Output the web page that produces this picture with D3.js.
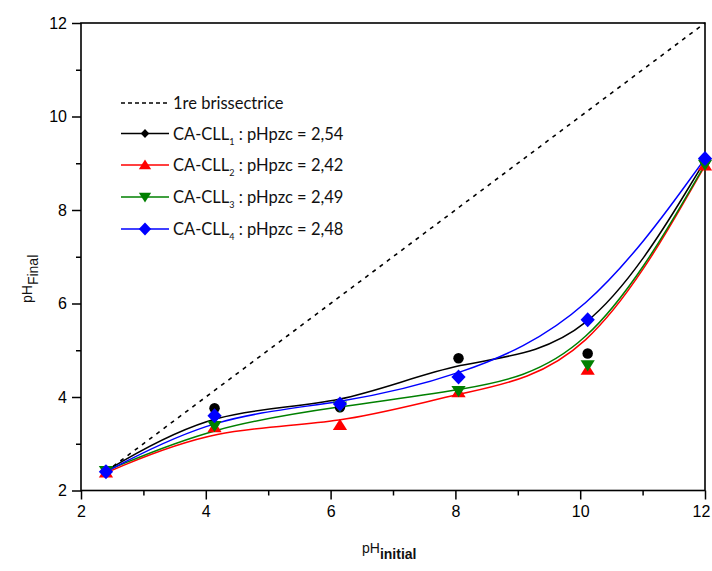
<!DOCTYPE html>
<html><head><meta charset="utf-8">
<script src="https://cdn.jsdelivr.net/npm/d3@7"></script>
<style>body{margin:0;background:#fff}svg{display:block}</style>
</head><body><svg id="c" width="712" height="571"></svg>
<script>
const phInitial = [2.4, 4.14, 6.15, 8.05, 10.12, 12.0];
const cll1 = [2.42, 3.76, 3.78, 4.83, 4.93, 9.05];
const cll2 = [2.38, 3.35, 3.40, 4.10, 4.58, 8.95];
const cll3 = [2.42, 3.38, 3.80, 4.13, 4.68, 8.97];
const cll4 = [2.40, 3.60, 3.85, 4.43, 5.65, 9.10];
const seriesNames = ["CA-CLL", "CA-CLL", "CA-CLL", "CA-CLL"];
const seriesSubs = ["1", "2", "3", "4"];
const pHpzc = ["2,54", "2,42", "2,49", "2,48"];
const bisector = [2.4, 12];
const xTicks = [2, 4, 6, 8, 10, 12];
const yTicks = [2, 4, 6, 8, 10, 12];

const colors = ["#000000", "#ff0000", "#008000", "#0000ff"];
const shapes = ["circle", "up", "down", "diamond"];
const legendShapes = ["diamond", "up", "down", "diamond"];
const data = [cll1, cll2, cll3, cll4];

const svg = d3.select("#c");
const L = 81, R = 705, T = 23, B = 490.5;
const x = d3.scaleLinear().domain([2, 12]).range([L, R]);
const y = d3.scaleLinear().domain([2, 12]).range([B, T]);

// axes
const minorX = d3.range(3, 12, 2), minorY = d3.range(3, 12, 2);
const gx = svg.append("g").attr("transform", `translate(0,${B})`)
  .call(d3.axisBottom(x).tickValues(xTicks).tickSize(9).tickPadding(6).tickFormat(d3.format("d")));
const gxm = svg.append("g").attr("transform", `translate(0,${B})`)
  .call(d3.axisBottom(x).tickValues(minorX).tickSize(5).tickFormat(""));
const gy = svg.append("g").attr("transform", `translate(${L},0)`)
  .call(d3.axisLeft(y).tickValues(yTicks).tickSize(9).tickPadding(5).tickFormat(d3.format("d")));
const gym = svg.append("g").attr("transform", `translate(${L},0)`)
  .call(d3.axisLeft(y).tickValues(minorY).tickSize(5).tickFormat(""));
[gx, gxm, gy, gym].forEach(g => {
  g.select(".domain").remove();
  g.selectAll("line").attr("stroke", "#000").attr("stroke-width", 1.5);
  g.selectAll("text").attr("font-family", "Liberation Sans, Arial, sans-serif")
    .attr("font-size", 16).attr("fill", "#000");
});
gx.selectAll(".tick text").filter(d => d === 12).attr("dx", -4);
// frame
svg.append("rect").attr("x", L).attr("y", T).attr("width", R - L).attr("height", B - T)
  .attr("fill", "none").attr("stroke", "#000").attr("stroke-width", 1.6);

// bisector
svg.append("line").attr("x1", x(bisector[0])).attr("y1", y(bisector[0]))
  .attr("x2", x(bisector[1])).attr("y2", y(bisector[1]))
  .attr("stroke", "#000").attr("stroke-width", 1.6).attr("stroke-dasharray", "4,5");

const line = d3.line().x((d, i) => x(phInitial[i])).y(d => y(d)).curve(d3.curveBasis);

function marker(g, shape, cx, cy, s, color) {
  if (shape === "circle") {
    g.append("circle").attr("cx", cx).attr("cy", cy).attr("r", s * 0.7).attr("fill", color);
    return;
  }
  let p;
  if (shape === "diamond") p = [[0, -s], [s * 0.95, 0], [0, s], [-s * 0.95, 0]];
  else if (shape === "up") p = [[0, -s * 0.85], [s * 0.95, s * 0.65], [-s * 0.95, s * 0.65]];
  else p = [[0, s * 0.85], [s * 0.95, -s * 0.65], [-s * 0.95, -s * 0.65]];
  g.append("path").attr("d", "M" + p.map(q => [cx + q[0], cy + q[1]].join(",")).join("L") + "Z")
    .attr("fill", color);
}

data.forEach((vals, k) => {
  svg.append("path").datum(vals).attr("d", line).attr("fill", "none")
    .attr("stroke", colors[k]).attr("stroke-width", 1.5);
});
data.forEach((vals, k) => {
  const g = svg.append("g");
  vals.forEach((v, i) => marker(g, shapes[k], x(phInitial[i]), y(v), 7.5, colors[k]));
});

// legend
const lg = svg.append("g").attr("font-family", "Lato, 'Open Sans', sans-serif").attr("font-size", 16.5).attr("fill", "#111");
const lx1 = 121, lx2 = 169, tx = 173;
const rows = [103, 133.5, 165, 197, 229];
lg.append("line").attr("x1", lx1).attr("x2", lx2).attr("y1", rows[0]).attr("y2", rows[0])
  .attr("stroke", "#000").attr("stroke-width", 1.6).attr("stroke-dasharray", "4,3");
lg.append("text").attr("x", tx).attr("y", rows[0] + 6).text("1re brissectrice");
data.forEach((vals, k) => {
  const yy = rows[k + 1];
  lg.append("line").attr("x1", lx1).attr("x2", lx2).attr("y1", yy).attr("y2", yy)
    .attr("stroke", colors[k]).attr("stroke-width", 1.5);
  marker(lg, legendShapes[k], (lx1 + lx2) / 2, yy, k === 0 ? 4.5 : 6.5, colors[k]);
  const t = lg.append("text").attr("x", tx).attr("y", yy + 6);
  t.append("tspan").text(seriesNames[k]);
  t.append("tspan").attr("font-size", 9).attr("dy", 5).text(seriesSubs[k]);
  t.append("tspan").attr("dy", -5).text(" : pHpzc = " + pHpzc[k]);
});

// axis titles
const xt = svg.append("text").attr("x", 362).attr("y", 553).attr("font-family", "Liberation Sans, Arial, sans-serif")
  .attr("font-size", 14).attr("fill", "#111");
xt.append("tspan").text("pH");
xt.append("tspan").attr("dy", 6).attr("font-size", 14).attr("font-weight", "bold").text("initial");

const yt = svg.append("text").attr("transform", "translate(32,303) rotate(-90)")
  .attr("font-family", "Liberation Sans, Arial, sans-serif").attr("font-size", 14).attr("fill", "#111");
yt.append("tspan").text("pH");
yt.append("tspan").attr("dy", 6).attr("font-size", 14).text("Final");
</script></body></html>
